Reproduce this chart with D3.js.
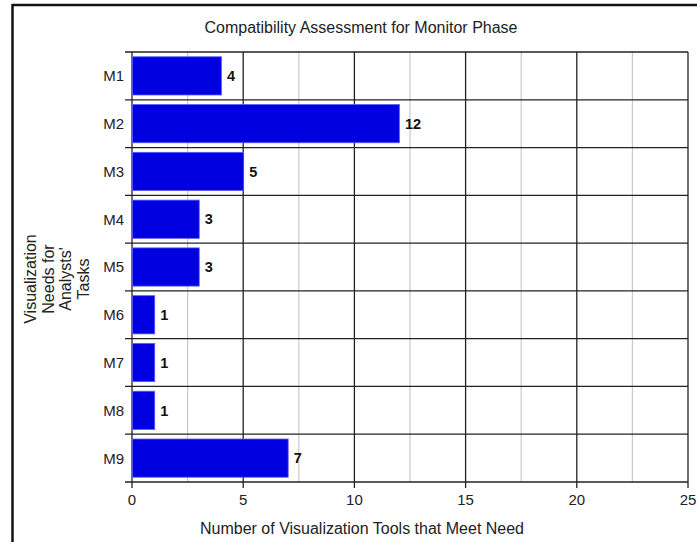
<!DOCTYPE html>
<html>
<head>
<meta charset="utf-8">
<script src="https://cdn.jsdelivr.net/npm/d3@7"></script>
<style>
  body { margin: 0; background: #fff; }
  svg { display: block; font-family: "Liberation Sans", Arial, sans-serif; }
</style>
</head>
<body>
<div id="chart"></div>
<script>
// --- Data ---
const categories = ["M1", "M2", "M3", "M4", "M5", "M6", "M7", "M8", "M9"];
const toolCounts = [4, 12, 5, 3, 3, 1, 1, 1, 7];
const xTicks = [0, 5, 10, 15, 20, 25];
const minorTicks = [2.5, 7.5, 12.5, 17.5, 22.5];
const chartTitle = "Compatibility Assessment for Monitor Phase";
const xTitle = "Number of Visualization Tools that Meet Need";
const yTitleLines = ["Visualization", "Needs for", "Analysts'", "Tasks"];

const W = 697, H = 542;
const plot = { left: 132, right: 688, top: 52, bottom: 482 };

const svg = d3.select("#chart").append("svg")
    .attr("width", W)
    .attr("height", H);

// outer frame (left + top edges visible)
svg.append("line").attr("x1", 12.5).attr("x2", 12.5).attr("y1", 4).attr("y2", H)
    .attr("stroke", "#111").attr("stroke-width", 2.5);
svg.append("line").attr("x1", 12).attr("x2", W).attr("y1", 5).attr("y2", 5)
    .attr("stroke", "#111").attr("stroke-width", 2.5);

const x = d3.scaleLinear().domain([0, 25]).range([plot.left, plot.right]);
const y = d3.scaleBand().domain(categories).range([plot.top, plot.bottom])
    .paddingInner(0.2).paddingOuter(0.1);

// minor gridlines
svg.append("g").selectAll("line").data(minorTicks).join("line")
    .attr("x1", d => x(d)).attr("x2", d => x(d))
    .attr("y1", plot.top).attr("y2", plot.bottom)
    .attr("stroke", "#c8c8c8").attr("stroke-width", 1.2);

// major gridlines (with tick below axis)
svg.append("g").selectAll("line").data(xTicks).join("line")
    .attr("x1", d => x(d)).attr("x2", d => x(d))
    .attr("y1", plot.top).attr("y2", plot.bottom + 6)
    .attr("stroke", "#222").attr("stroke-width", 1.3);

// row separators (extend left as ticks)
const rowEdges = d3.range(categories.length + 1).map(i => plot.top + i * (plot.bottom - plot.top) / categories.length);
svg.append("g").selectAll("line").data(rowEdges).join("line")
    .attr("x1", plot.left - 7).attr("x2", plot.right)
    .attr("y1", d => d).attr("y2", d => d)
    .attr("stroke", "#222").attr("stroke-width", 1.3);

// bars
svg.append("g").selectAll("rect").data(categories).join("rect")
    .attr("x", x(0) + 0.5)
    .attr("y", d => y(d))
    .attr("width", (d, i) => x(toolCounts[i]) - x(0))
    .attr("height", y.bandwidth())
    .attr("fill", "#0000e0")
    .attr("stroke", "#5a5aff")
    .attr("stroke-width", 0.8);

// value labels
svg.append("g").selectAll("text").data(categories).join("text")
    .attr("x", (d, i) => x(toolCounts[i]) + 6)
    .attr("y", d => y(d) + y.bandwidth() / 2)
    .attr("dy", "0.36em")
    .attr("font-size", 14.5)
    .attr("font-weight", "bold")
    .attr("fill", "#111")
    .text((d, i) => toolCounts[i]);

// category labels
svg.append("g").selectAll("text").data(categories).join("text")
    .attr("x", plot.left - 8)
    .attr("y", d => y(d) + y.bandwidth() / 2)
    .attr("dy", "0.36em")
    .attr("text-anchor", "end")
    .attr("font-size", 15)
    .attr("fill", "#222")
    .text(d => d);

// x tick labels
svg.append("g").selectAll("text").data(xTicks).join("text")
    .attr("x", d => x(d))
    .attr("y", 505)
    .attr("text-anchor", "middle")
    .attr("font-size", 15)
    .attr("fill", "#222")
    .text(d => d);

// titles
svg.append("text")
    .attr("x", 361).attr("y", 33)
    .attr("text-anchor", "middle")
    .attr("font-size", 16)
    .attr("fill", "#222")
    .text(chartTitle);

svg.append("text")
    .attr("x", 362).attr("y", 534)
    .attr("text-anchor", "middle")
    .attr("font-size", 16)
    .attr("fill", "#222")
    .text(xTitle);

const yt = svg.append("text")
    .attr("transform", "translate(36, 279) rotate(-90)")
    .attr("text-anchor", "middle")
    .attr("font-size", 16)
    .attr("fill", "#222");
yt.selectAll("tspan").data(yTitleLines).join("tspan")
    .attr("x", 0)
    .attr("dy", (d, i) => i === 0 ? 0 : 17.5)
    .text(d => d);
</script>
</body>
</html>
